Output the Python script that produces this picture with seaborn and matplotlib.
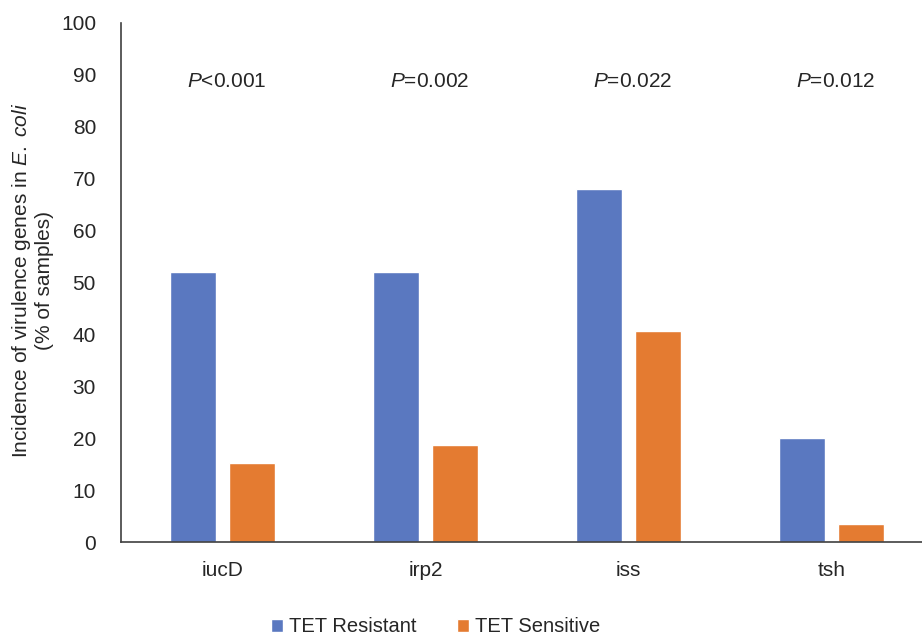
import pandas as pd
import seaborn as sns
import matplotlib.pyplot as plt

genes = ['iucD', 'irp2', 'iss', 'tsh']
resistant = [52.0, 52.0, 68.0, 20.0]
sensitive = [15.2, 18.6, 40.7, 3.4]
p_labels = ['<0.001', '=0.002', '=0.022', '=0.012']
groups = ['TET Resistant', 'TET Sensitive']
colors = ['#5A78C0', '#E47B31']

df = pd.DataFrame({
    'gene': genes * 2,
    'group': [groups[0]] * len(genes) + [groups[1]] * len(genes),
    'value': resistant + sensitive,
})

sns.set_style('white')
plt.rcParams['font.family'] = ['Liberation Sans', 'DejaVu Sans']
plt.rcParams['mathtext.fontset'] = 'custom'
plt.rcParams['mathtext.it'] = 'Liberation Sans:italic'
plt.rcParams['mathtext.rm'] = 'Liberation Sans'

fig = plt.figure(figsize=(9.22, 6.37), dpi=100)
ax = fig.add_axes([121 / 922, 95 / 637, 812 / 922, 519 / 637])

sns.barplot(data=df, x='gene', y='value', hue='group', palette=colors,
            width=0.58, gap=0.21, ax=ax, saturation=1, legend=True)

for i, p in enumerate(p_labels):
    ax.text(i + 0.02, 88.8, r'$\it{P}$' + p, ha='center', va='center', fontsize=15)

ax.set_ylim(0, 100)
ax.set_xlim(-0.5, 3.5)
ax.set_yticks(range(0, 101, 10))
ax.tick_params(axis='y', labelsize=15, length=0, pad=18)
ax.tick_params(axis='x', labelsize=15, length=0, pad=14)
ax.set_xlabel('')
ax.set_ylabel('')
fig.text(32 / 922, 1 - 280 / 637,
         'Incidence of virulence genes in $\\it{E.}$ $\\it{coli}$\n(% of samples)',
         rotation=90, ha='center', va='center', fontsize=15, linespacing=1.15,
         multialignment='center')
sns.despine(ax=ax)
for s in ['left', 'bottom']:
    ax.spines[s].set_color('#404040')
    ax.spines[s].set_linewidth(1.2)

ax.get_legend().remove()
handles, labels = ax.get_legend_handles_labels()
fig.legend(handles[:2], labels[:2], loc='center', bbox_to_anchor=(436 / 922, 1 - 627 / 637),
           ncol=2, frameon=False, fontsize=14.5, handlelength=0.6, handleheight=0.6,
           handletextpad=0.3, columnspacing=2.0)

fig.savefig('out.png', dpi=100)
